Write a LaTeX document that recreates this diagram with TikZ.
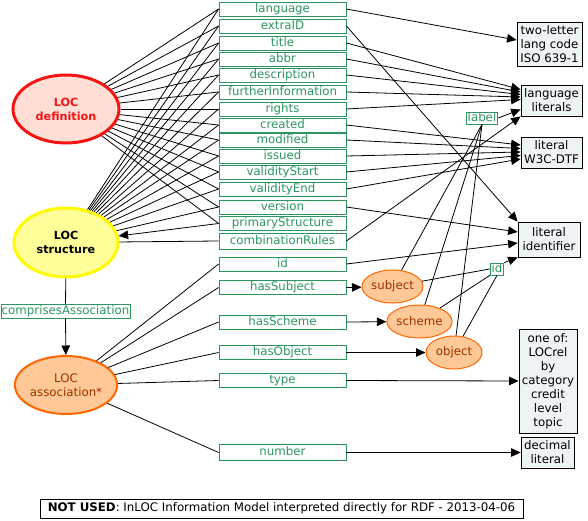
\documentclass[tikz,border=0pt]{standalone}
\usepackage{fontspec}
\setmainfont{DejaVu Sans}
\usetikzlibrary{shapes.geometric,arrows.meta}
\definecolor{pgreen}{RGB}{45,150,95}
\definecolor{deffill}{RGB}{255,222,214}
\definecolor{defdraw}{RGB}{245,20,20}
\definecolor{structfill}{RGB}{255,255,153}
\definecolor{structdraw}{RGB}{255,250,0}
\definecolor{assocfill}{RGB}{255,200,150}
\definecolor{assocdraw}{RGB}{255,102,0}
\definecolor{assoctext}{RGB}{153,51,0}
\definecolor{litfill}{RGB}{238,244,246}
\begin{document}
\begin{tikzpicture}[x=1pt,y=-1pt,
  prop/.style={draw=pgreen, text=pgreen, fill=white, line width=0.8pt, minimum width=127pt, minimum height=14pt, inner sep=0pt, text height=8.8pt, text depth=2.6pt, font=\fontsize{11.8}{13}\selectfont},
  small/.style={prop, minimum width=0pt, inner xsep=1.5pt, minimum height=12pt},
  lit/.style={draw=black, fill=litfill, line width=0.8pt, inner sep=0pt, align=center, font=\fontsize{11.8}{14}\selectfont},
  ell/.style={ellipse, inner sep=0pt, align=center, font=\fontsize{11.8}{14.5}\selectfont},
  conn/.style={line width=0.8pt},
  arr/.style={conn, -{Triangle[length=9.5pt,width=8.5pt]}}]
\useasboundingbox (0,0) rectangle (588,521);

% property boxes
\node[prop] (language) at (282.5,9) {language};
\node[prop] (extraID) at (282.5,26) {extraID};
\node[prop] (title) at (282.5,43) {title};
\node[prop] (abbr) at (282.5,59) {abbr};
\node[prop] (description) at (282.5,75) {description};
\node[prop] (furtherInformation) at (282.5,92) {furtherInformation};
\node[prop] (rights) at (282.5,109) {rights};
\node[prop] (created) at (282.5,125) {created};
\node[prop] (modified) at (282.5,140) {modified};
\node[prop] (issued) at (282.5,156) {issued};
\node[prop] (validityStart) at (282.5,172) {validityStart};
\node[prop] (validityEnd) at (282.5,189) {validityEnd};
\node[prop] (version) at (282.5,207) {version};
\node[prop] (primaryStructure) at (282.5,223.5) {primaryStructure};
\node[prop, minimum height=16pt] (combinationRules) at (282.5,241) {combinationRules};
\node[prop] (id) at (282.5,264) {id};
\node[prop] (hasSubject) at (282.5,287.5) {hasSubject};
\node[prop] (hasScheme) at (282.5,322) {hasScheme};
\node[prop] (hasObject) at (282.5,352.5) {hasObject};
\node[prop] (type) at (282.5,380.5) {type};
\node[prop, minimum height=16pt] (number) at (282.5,452.5) {number};

% ellipses
\node[ell, draw=defdraw, fill=deffill, line width=3pt, text=defdraw, minimum width=106pt, minimum height=68pt, font=\fontsize{11.2}{14}\selectfont\bfseries] (def) at (66,109) {LOC\\definition};
\node[ell, draw=structdraw, fill=structfill, line width=3pt, minimum width=104pt, minimum height=69pt, font=\fontsize{11.2}{14}\selectfont\bfseries] (struct) at (66,242.5) {LOC\\structure};
\node[prop, minimum width=129pt] (comp) at (65.5,311) {comprisesAssociation};
\node[ell, draw=assocdraw, fill=assocfill, line width=2pt, text=assoctext, minimum width=101pt, minimum height=58pt] (assoc) at (66,385) {LOC\\association*};
\node[ell, draw=assocdraw, fill=assocfill, line width=1pt, text=assoctext, minimum width=61pt, minimum height=33pt] (subject) at (392.5,286.5) {subject};
\node[ell, draw=assocdraw, fill=assocfill, line width=1pt, text=assoctext, minimum width=61pt, minimum height=33pt] (scheme) at (419.5,321.5) {scheme};
\node[ell, draw=assocdraw, fill=assocfill, line width=1pt, text=assoctext, minimum width=56pt, minimum height=33pt] (object) at (454,352.5) {object};

% small boxes
\node[small] (label) at (482,118) {label};
\node[small] (idb) at (497,269) {id};

% literal boxes
\node[lit, minimum width=65pt, minimum height=44pt] (iso) at (549.5,44) {two-letter\\lang code\\ISO 639-1};
\node[lit, minimum width=61pt, minimum height=31pt] (langlit) at (551.5,100.5) {language\\literals};
\node[lit, minimum width=61pt, minimum height=31pt] (w3c) at (551.5,152.5) {literal\\W3C-DTF};
\node[lit, minimum width=62pt, minimum height=35pt] (litid) at (549,239.5) {literal\\identifier};
\node[lit, minimum width=58pt, minimum height=104pt] (oneof) at (548,381) {one of:\\LOCrel\\by\\category\\credit\\level\\topic};
\node[lit, minimum width=53pt, minimum height=31pt] (decimal) at (547.5,452.5) {decimal\\literal};

\node[draw=black, fill=white, line width=0.8pt, minimum width=483pt, minimum height=19pt, inner sep=0pt, font=\fontsize{11.8}{13}\selectfont] (footer) at (281.5,508.5) {\textbf{NOT USED}: InLOC Information Model interpreted directly for RDF - 2013-04-06};

% left connectors
\foreach \p in {language,extraID,title,abbr,description,furtherInformation,rights,created,modified,issued,validityStart,validityEnd,version,primaryStructure}
  \draw[conn] (def) -- (\p.west);
\foreach \p in {language,extraID,title,abbr,description,furtherInformation,rights,created,modified,issued,validityStart,validityEnd,version}
  \draw[conn] (struct) -- (\p.west);
\draw[arr] (primaryStructure.west) -- (struct);
\draw[conn] (combinationRules.west) -- (struct);
\draw[conn] (struct) -- (comp);
\draw[arr] (comp) -- (assoc);
\foreach \p in {id,hasSubject,hasScheme,hasObject,type,number}
  \draw[conn] (assoc) -- (\p.west);

% right connectors
\draw[arr] (language.east) -- ([yshift=4pt]iso.west);
\draw[arr] (title.east) -- ([yshift=11pt]langlit.west);
\draw[arr] (abbr.east) -- ([yshift=8.5pt]langlit.west);
\draw[arr] (description.east) -- ([yshift=6pt]langlit.west);
\draw[arr] (furtherInformation.east) -- ([yshift=3.5pt]langlit.west);
\draw[arr] (rights.east) -- ([yshift=1pt]langlit.west);
\draw[arr] (label.east) -- ([yshift=-9pt]langlit.west);
\draw[arr] (combinationRules.east) -- (langlit.south west);
\draw[arr] (created.east) -- ([yshift=7.5pt]w3c.west);
\draw[arr] (modified.east) -- ([yshift=4pt]w3c.west);
\draw[arr] (issued.east) -- ([yshift=0.5pt]w3c.west);
\draw[arr] (validityStart.east) -- ([yshift=-3pt]w3c.west);
\draw[arr] (validityEnd.east) -- ([yshift=-6.5pt]w3c.west);
\draw[arr] (extraID.east) -- (litid.north west);
\draw[arr] (version.east) -- ([yshift=7.5pt]litid.west);
\draw[arr] (id.east) -- ([yshift=-3.5pt]litid.west);
\draw[arr] (idb.north east) -- (litid.south west);
\draw[arr] (hasSubject.east) -- (subject);
\draw[arr] (hasScheme.east) -- (scheme);
\draw[arr] (hasObject.east) -- (object);
\draw[arr] (type.east) -- (oneof.west);
\draw[arr] (number.east) -- (decimal.west);
\draw[conn] (label.south) -- (subject);
\draw[conn] (label.south) -- (scheme);
\draw[conn] (label.south) -- (object);
\draw[conn] (idb.west) -- (subject);
\draw[conn] (idb.south west) -- (scheme);
\draw[conn] (idb.south) -- (object);
\end{tikzpicture}
\end{document}
